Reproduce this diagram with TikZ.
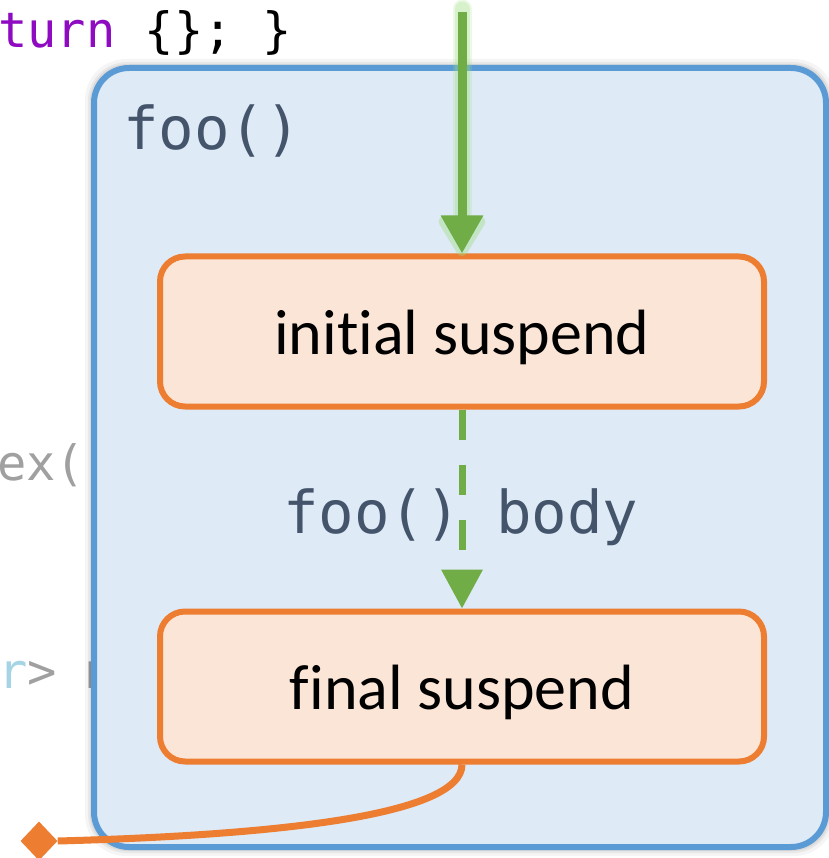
\documentclass[tikz,border=0pt]{standalone}
\usepackage{fontspec}
\setmonofont{DejaVu Sans Mono}
\setsansfont[Ligatures=NoCommon]{Carlito}
\usetikzlibrary{arrows.meta,shapes.geometric}
\definecolor{kwpurple}{HTML}{8E0BC2}
\definecolor{codegrey}{HTML}{A0A0A0}
\definecolor{codeblue}{HTML}{A5D5E5}
\definecolor{labelcol}{HTML}{44546A}
\definecolor{outerline}{HTML}{5B9BD5}
\definecolor{outerfill}{HTML}{DEEAF6}
\definecolor{orangeline}{HTML}{ED7D31}
\definecolor{orangefill}{HTML}{FBE5D6}
\definecolor{arrowgreen}{HTML}{70AD47}
\definecolor{glowgreen}{HTML}{9BE07A}
\tikzset{
  codetxt/.style={inner sep=0pt, font=\ttfamily\fontsize{48.7}{54}\selectfont},
  labeltxt/.style={inner sep=0pt, text=labelcol, font=\ttfamily\fontsize{59}{66}\selectfont},
  outerbox/.style={draw=outerline, fill=outerfill, line width=6pt, rounded corners=35pt,
    minimum width=732pt, minimum height=779pt, inner sep=0pt},
  suspbox/.style={draw=orangeline, fill=orangefill, line width=6pt, rounded corners=25pt,
    minimum width=604pt, minimum height=150pt, inner sep=0pt,
    text height=45pt, text depth=0pt, font=\sffamily\fontsize{64}{72}\selectfont},
  greenarrow/.style={draw=arrowgreen, line width=9pt, -{Triangle[length=38pt,width=40pt]}},
  greenglow/.style={draw=glowgreen, line cap=round, -{Triangle[length=46pt,width=52pt,round]}},
  greendash/.style={draw=arrowgreen, line width=7pt, dash pattern=on 30pt off 25pt,
    -{Triangle[length=39pt,width=40pt]}},
  orangecurve/.style={draw=orangeline, line width=7pt},
  enddiamond/.style={diamond, fill=orangeline, minimum width=37pt, minimum height=39pt, inner sep=0pt}
}
\begin{document}
\begin{tikzpicture}[x=1pt,y=-1pt]
\useasboundingbox (0,0) rectangle (828,858);
\fill[white] (0,0) rectangle (828,858);
% code fragments behind the box
\node[codetxt, anchor=base west] (code1) at (-2,48) {\textcolor{kwpurple}{turn} \{\}; \}};
\node[codetxt, text=codegrey, anchor=base west] (code2) at (-3,480) {ex()};
\node[codetxt, text=codegrey, anchor=base west] (code3) at (-2,688) {\textcolor{codeblue}{r}> m};
% soft shadow
\fill[black, opacity=0.04, rounded corners=41pt] (85,59) rectangle (835,856);
\fill[black, opacity=0.05, rounded corners=39pt] (88,62) rectangle (832,853);
\fill[black, opacity=0.06, rounded corners=37pt] (90,64) rectangle (830,851);
% outer box
\node[outerbox] (outer) at (460,457.5) {};
\node[labeltxt, anchor=base west] (lbl) at (123,150) {foo()};
% inner boxes
\node[suspbox] (init) at (462,331.5) {initial suspend};
\node[suspbox] (fin) at (462,686.5) {final suspend};
% entry arrow with glow
\coordinate (start) at (462,12);
\coordinate (glowstart) at (462,9);
\coordinate (glowend) at (462,256);
\draw[greenglow, line width=19pt, opacity=0.18] (glowstart) -- (glowend);
\draw[greenglow, line width=15pt, opacity=0.25] (glowstart) -- (glowend);
\draw[greenarrow] (start) -- (init.north);
% body label and dashed arrow
\node[labeltxt, anchor=base west] (body) at (283,533) {foo() body};
\draw[greendash] (init.south) -- (fin.north);
% exit curve
\node[enddiamond] (dia) at (39,841) {};
\draw[orangecurve] (fin.south) .. controls (462,815) and (280,835) .. (dia.east);
\end{tikzpicture}
\end{document}
